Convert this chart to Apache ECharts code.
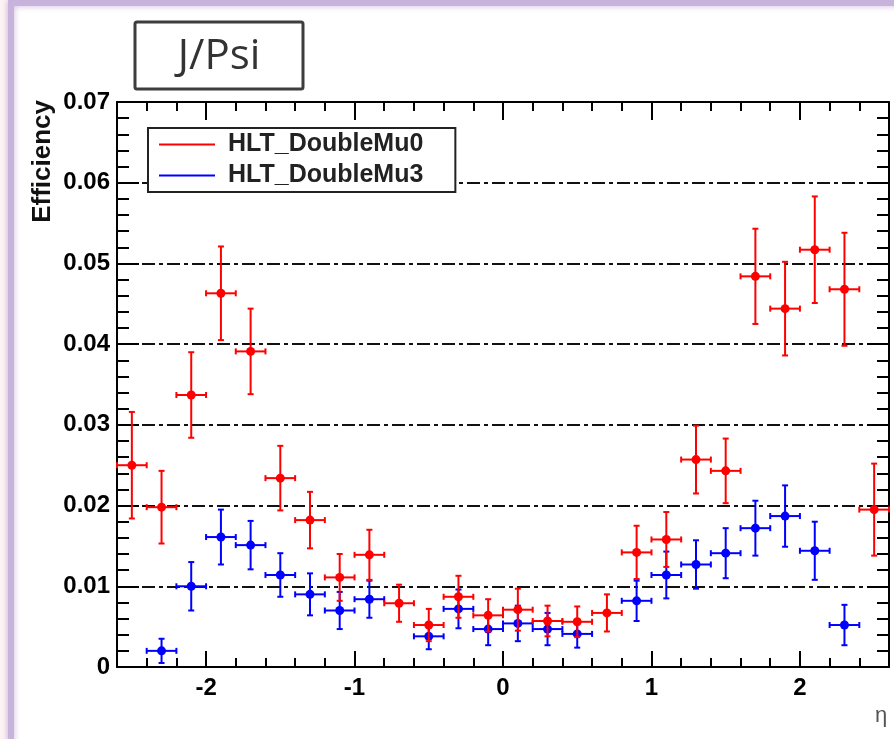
<!DOCTYPE html>
<html>
<head>
<meta charset="utf-8">
<script src="https://cdn.jsdelivr.net/npm/echarts@6/dist/echarts.min.js"></script>
<style>
  html, body { margin: 0; padding: 0; background: #fdf3f3; }
  #chart { width: 894px; height: 739px; }
</style>
</head>
<body>
<div id="chart"></div>
<script>
// eta bin centres (bin width 0.2)
var etaBins = [-2.5, -2.3, -2.1, -1.9, -1.7, -1.5, -1.3, -1.1, -0.9, -0.7, -0.5, -0.3, -0.1,
               0.1, 0.3, 0.5, 0.7, 0.9, 1.1, 1.3, 1.5, 1.7, 1.9, 2.1, 2.3, 2.5];
var binHalf = 0.1;

// HLT_DoubleMu0 (red)
var mu0Eff = [0.0250, 0.0198, 0.0337, 0.0463, 0.0391, 0.0234, 0.0182, 0.0111, 0.0139, 0.0079, 0.0052, 0.0087, 0.0064,
              0.0071, 0.0057, 0.0056, 0.0067, 0.0142, 0.0158, 0.0257, 0.0243, 0.0484, 0.0444, 0.0517, 0.0468, 0.0195];
var mu0Err = [0.0066, 0.0045, 0.0053, 0.0058, 0.0053, 0.0040, 0.0035, 0.0029, 0.0031, 0.0023, 0.0020, 0.0026, 0.0020,
              0.0026, 0.0019, 0.0019, 0.0023, 0.0033, 0.0034, 0.0042, 0.0040, 0.0059, 0.0058, 0.0066, 0.0070, 0.0057];

// HLT_DoubleMu3 (blue), null = no point
var mu3Eff = [null, 0.0020, 0.0100, 0.0161, 0.0151, 0.0114, 0.0090, 0.0070, 0.0084, null, 0.0038, 0.0072, 0.0047,
              0.0054, 0.0047, 0.0041, null, 0.0082, 0.0114, 0.0127, 0.0141, 0.0172, 0.0187, 0.0144, 0.0052, null];
var mu3Err = [null, 0.0015, 0.0030, 0.0034, 0.0030, 0.0027, 0.0026, 0.0023, 0.0023, null, 0.0016, 0.0024, 0.0020,
              0.0022, 0.0020, 0.0017, null, 0.0025, 0.0029, 0.0030, 0.0031, 0.0034, 0.0038, 0.0036, 0.0025, null];

// tick positions
var xMajorTicks = [-2, -1, 0, 1, 2];

var myChart = echarts.init(document.getElementById('chart'));

function toData(eff, err) {
	var out = [];
	for (var i = 0; i < etaBins.length; i++) {
		if (eff[i] == null) continue;
		out.push([etaBins[i], eff[i], err[i]]);
	}
	return out;
}

function renderErr(params, api) {
	var x = api.value(0), y = api.value(1), e = api.value(2);
	var c = api.coord([x, y]);
	var hi = api.coord([x, y + e]);
	var lo = api.coord([x, y - e]);
	var l = api.coord([x - binHalf, y]);
	var r = api.coord([x + binHalf, y]);
	var col = api.visual('color');
	var st = { stroke: col, lineWidth: 2 };
	var cap = 3;
	return {
		type: 'group',
		children: [
			{ type: 'line', shape: { x1: c[0], y1: hi[1], x2: c[0], y2: lo[1] }, style: st },
			{ type: 'line', shape: { x1: l[0], y1: c[1], x2: r[0], y2: c[1] }, style: st },
			{ type: 'line', shape: { x1: c[0] - cap, y1: hi[1], x2: c[0] + cap, y2: hi[1] }, style: st },
			{ type: 'line', shape: { x1: c[0] - cap, y1: lo[1], x2: c[0] + cap, y2: lo[1] }, style: st },
			{ type: 'line', shape: { x1: l[0], y1: c[1] - cap, x2: l[0], y2: c[1] + cap }, style: st },
			{ type: 'line', shape: { x1: r[0], y1: c[1] - cap, x2: r[0], y2: c[1] + cap }, style: st },
			{ type: 'circle', shape: { cx: c[0], cy: c[1], r: 4.5 }, style: { fill: col } }
		]
	};
}

var axisLineSt = { show: true, onZero: false, lineStyle: { color: '#000', width: 2 } };
var tickFont = { color: '#000', fontWeight: 'bold', fontSize: 24, fontFamily: 'Liberation Sans' };

var option = {
	backgroundColor: '#fdf3f3',
	animation: false,
	graphic: [
		{ // frame
			type: 'rect', z: -10,
			shape: { x: 11, y: 3, width: 1000, height: 1000 },
			style: { fill: '#fff', stroke: '#c8b3dc', lineWidth: 6, shadowBlur: 6, shadowColor: 'rgba(200,175,220,0.9)' }
		},
		{ // title box
			type: 'rect', z: 10,
			shape: { x: 135, y: 22, width: 168, height: 67, r: 2 },
			style: { fill: '#fff', stroke: '#3d3d3d', lineWidth: 3 }
		},
		{
			type: 'text', z: 11, x: 219, y: 57,
			style: { text: 'J/Psi', fill: '#333', font: '42px "Open Sans"', align: 'center', verticalAlign: 'middle' }
		},
		{ // y title
			type: 'text', z: 11, x: 43, y: 100, rotation: Math.PI / 2,
			style: { text: 'Efficiency', fill: '#111', font: 'bold 26px "Liberation Sans"', align: 'right', verticalAlign: 'middle' }
		},
		{ // x title
			type: 'text', z: 11, x: 881, y: 716,
			style: { text: 'η', fill: '#555', font: '22px "Liberation Sans"', align: 'center', verticalAlign: 'middle' }
		}
	],
	legend: {
		left: 148,
		top: 128,
		orient: 'vertical',
		data: ['HLT_DoubleMu0', 'HLT_DoubleMu3'],
		icon: 'rect',
		itemWidth: 56,
		itemHeight: 2,
		itemGap: 6,
		padding: [4, 32, 4, 11],
		backgroundColor: '#fff',
		borderColor: '#222',
		borderWidth: 2,
		borderRadius: 0,
		textStyle: {
			color: '#222', fontWeight: 'bold', fontSize: 25, lineHeight: 24,
			fontFamily: 'Liberation Sans', padding: [0, 0, 0, 8]
		}
	},
	grid: { left: 117, right: 5, top: 102, bottom: 72 },
	xAxis: [
		{ // bottom, minor ticks + labels
			type: 'value', position: 'bottom', min: -2.6, max: 2.6, interval: 0.2,
			axisLine: axisLineSt,
			axisTick: { show: true, inside: true, length: 9, lineStyle: { color: '#000', width: 2 } },
			axisLabel: Object.assign({
				margin: 9,
				formatter: function (v) {
					var r = Math.round(v);
					return Math.abs(v - r) < 1e-6 ? String(r) : '';
				}
			}, tickFont),
			splitLine: { show: false }
		},
		{ // bottom, major ticks
			type: 'value', position: 'bottom', min: -2.6, max: 2.6,
			axisLine: { show: false, onZero: false },
			axisTick: { show: true, inside: true, length: 16, customValues: xMajorTicks, lineStyle: { color: '#000', width: 2 } },
			axisLabel: { show: false, customValues: xMajorTicks },
			splitLine: { show: false }
		},
		{ // top, minor
			type: 'value', position: 'top', min: -2.6, max: 2.6, interval: 0.2,
			axisLine: axisLineSt,
			axisTick: { show: true, inside: true, length: 9, lineStyle: { color: '#000', width: 2 } },
			axisLabel: { show: false },
			splitLine: { show: false }
		},
		{ // top, major
			type: 'value', position: 'top', min: -2.6, max: 2.6,
			axisLine: { show: false, onZero: false },
			axisTick: { show: true, inside: true, length: 18, customValues: xMajorTicks, lineStyle: { color: '#000', width: 2 } },
			axisLabel: { show: false, customValues: xMajorTicks },
			splitLine: { show: false }
		}
	],
	yAxis: [
		{
			type: 'value', position: 'left', min: 0, max: 0.07, interval: 0.01,
			axisLine: axisLineSt,
			axisTick: { show: true, inside: true, length: 22, lineStyle: { color: '#000', width: 2 } },
			minorTick: { show: true, splitNumber: 5, length: 12, lineStyle: { color: '#000', width: 2 } },
			axisLabel: Object.assign({
				margin: 7,
				formatter: function (v) { return String(+v.toFixed(2)); }
			}, tickFont),
			splitLine: { show: true, lineStyle: { color: '#111', width: 2, type: [13, 4, 4, 4] } }
		},
		{
			type: 'value', position: 'right', min: 0, max: 0.07, interval: 0.01,
			axisLine: axisLineSt,
			axisTick: { show: true, inside: true, length: 22, lineStyle: { color: '#000', width: 2 } },
			minorTick: { show: true, splitNumber: 5, length: 12, lineStyle: { color: '#000', width: 2 } },
			axisLabel: { show: false },
			splitLine: { show: false }
		}
	],
	series: [
		{
			name: 'HLT_DoubleMu3',
			type: 'custom',
			xAxisIndex: 0, yAxisIndex: 0,
			z: 3,
			itemStyle: { color: '#0000ff' },
			encode: { x: 0, y: 1 },
			renderItem: renderErr,
			data: toData(mu3Eff, mu3Err)
		},
		{
			name: 'HLT_DoubleMu0',
			type: 'custom',
			xAxisIndex: 0, yAxisIndex: 0,
			z: 4,
			itemStyle: { color: '#ff0000' },
			encode: { x: 0, y: 1 },
			renderItem: renderErr,
			data: toData(mu0Eff, mu0Err)
		}
	]
};

myChart.setOption(option);
</script>
</body>
</html>
